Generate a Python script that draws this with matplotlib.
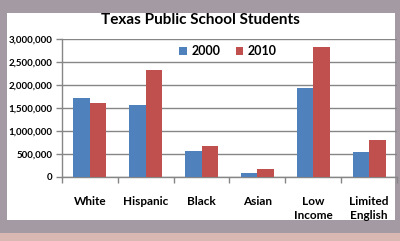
import matplotlib
matplotlib.use("Agg")
import matplotlib.pyplot as plt
import numpy as np
from matplotlib.patches import Rectangle

categories = ["White", "Hispanic", "Black", "Asian", "Low\nIncome", "Limited\nEnglish"]
values_2000 = [1711000, 1565000, 572000, 94000, 1941000, 543000]
values_2010 = [1609000, 2326000, 674000, 174000, 2833000, 804000]
series_labels = ["2000", "2010"]
yticks = [0, 500000, 1000000, 1500000, 2000000, 2500000, 3000000]
title = "Texas Public School Students"

plt.rcParams["font.family"] = ["Lato", "DejaVu Sans"]

W, H = 400, 241
fig = plt.figure(figsize=(4, 2.41), dpi=100)
fig.patch.set_facecolor("#a49aa3")
# white chart area
fig.patches.append(Rectangle((7 / W, 1 - 220 / H), (395 - 7) / W, (220 - 13) / H,
                             transform=fig.transFigure, facecolor="white",
                             edgecolor="none", zorder=0))
# reddish stripe at the bottom
fig.patches.append(Rectangle((0, 0), 1, 8 / H, transform=fig.transFigure,
                             facecolor="#d9b8b4", edgecolor="none", zorder=0))

ax = fig.add_axes([62 / W, 1 - 177 / H, (397 - 62) / W, (177 - 39) / H])
ax.set_zorder(2)
ax.set_facecolor("none")

x = np.arange(len(categories))
bw = 0.295
ax.bar(x - bw / 2, values_2000, bw, color="#4F81BD", label=series_labels[0], zorder=3)
ax.bar(x + bw / 2, values_2010, bw, color="#C0504D", label=series_labels[1], zorder=3)

ax.set_xlim(-0.5, len(categories) - 0.5)
ax.set_ylim(0, 3000000)
ax.set_yticks(yticks)
ax.set_yticklabels([f"{v:,}" for v in yticks], fontsize=7, fontweight="bold")
ax.yaxis.grid(True, color="#868686", linewidth=1, zorder=0)
ax.set_axisbelow(True)

ax.set_xticks(x)
ax.set_xticklabels(categories, fontsize=8.5, fontweight="bold", linespacing=1.3)
ax.set_xticks(np.arange(len(categories) + 1) - 0.5, minor=True)
ax.tick_params(axis="x", which="major", length=0, pad=14)
ax.tick_params(axis="x", which="minor", length=4, color="#868686", width=1)
ax.tick_params(axis="y", which="major", length=4, color="#868686", width=1, pad=3)

for s in ["top", "right"]:
    ax.spines[s].set_visible(False)
for s in ["left", "bottom"]:
    ax.spines[s].set_color("#868686")
    ax.spines[s].set_linewidth(1)

fig.text(200 / W, 1 - 20 / H, title, ha="center", va="center",
         fontsize=11, fontweight="bold", zorder=3)

ax.legend(loc="center", bbox_to_anchor=((228 - 62) / (397 - 62), (177 - 51) / (177 - 39)),
          ncol=2, frameon=False, handlelength=0.6, handleheight=0.6,
          columnspacing=1.2, handletextpad=0.4, prop={"weight": "bold", "size": 9})

fig.savefig("out.png", dpi=100, facecolor=fig.get_facecolor())
